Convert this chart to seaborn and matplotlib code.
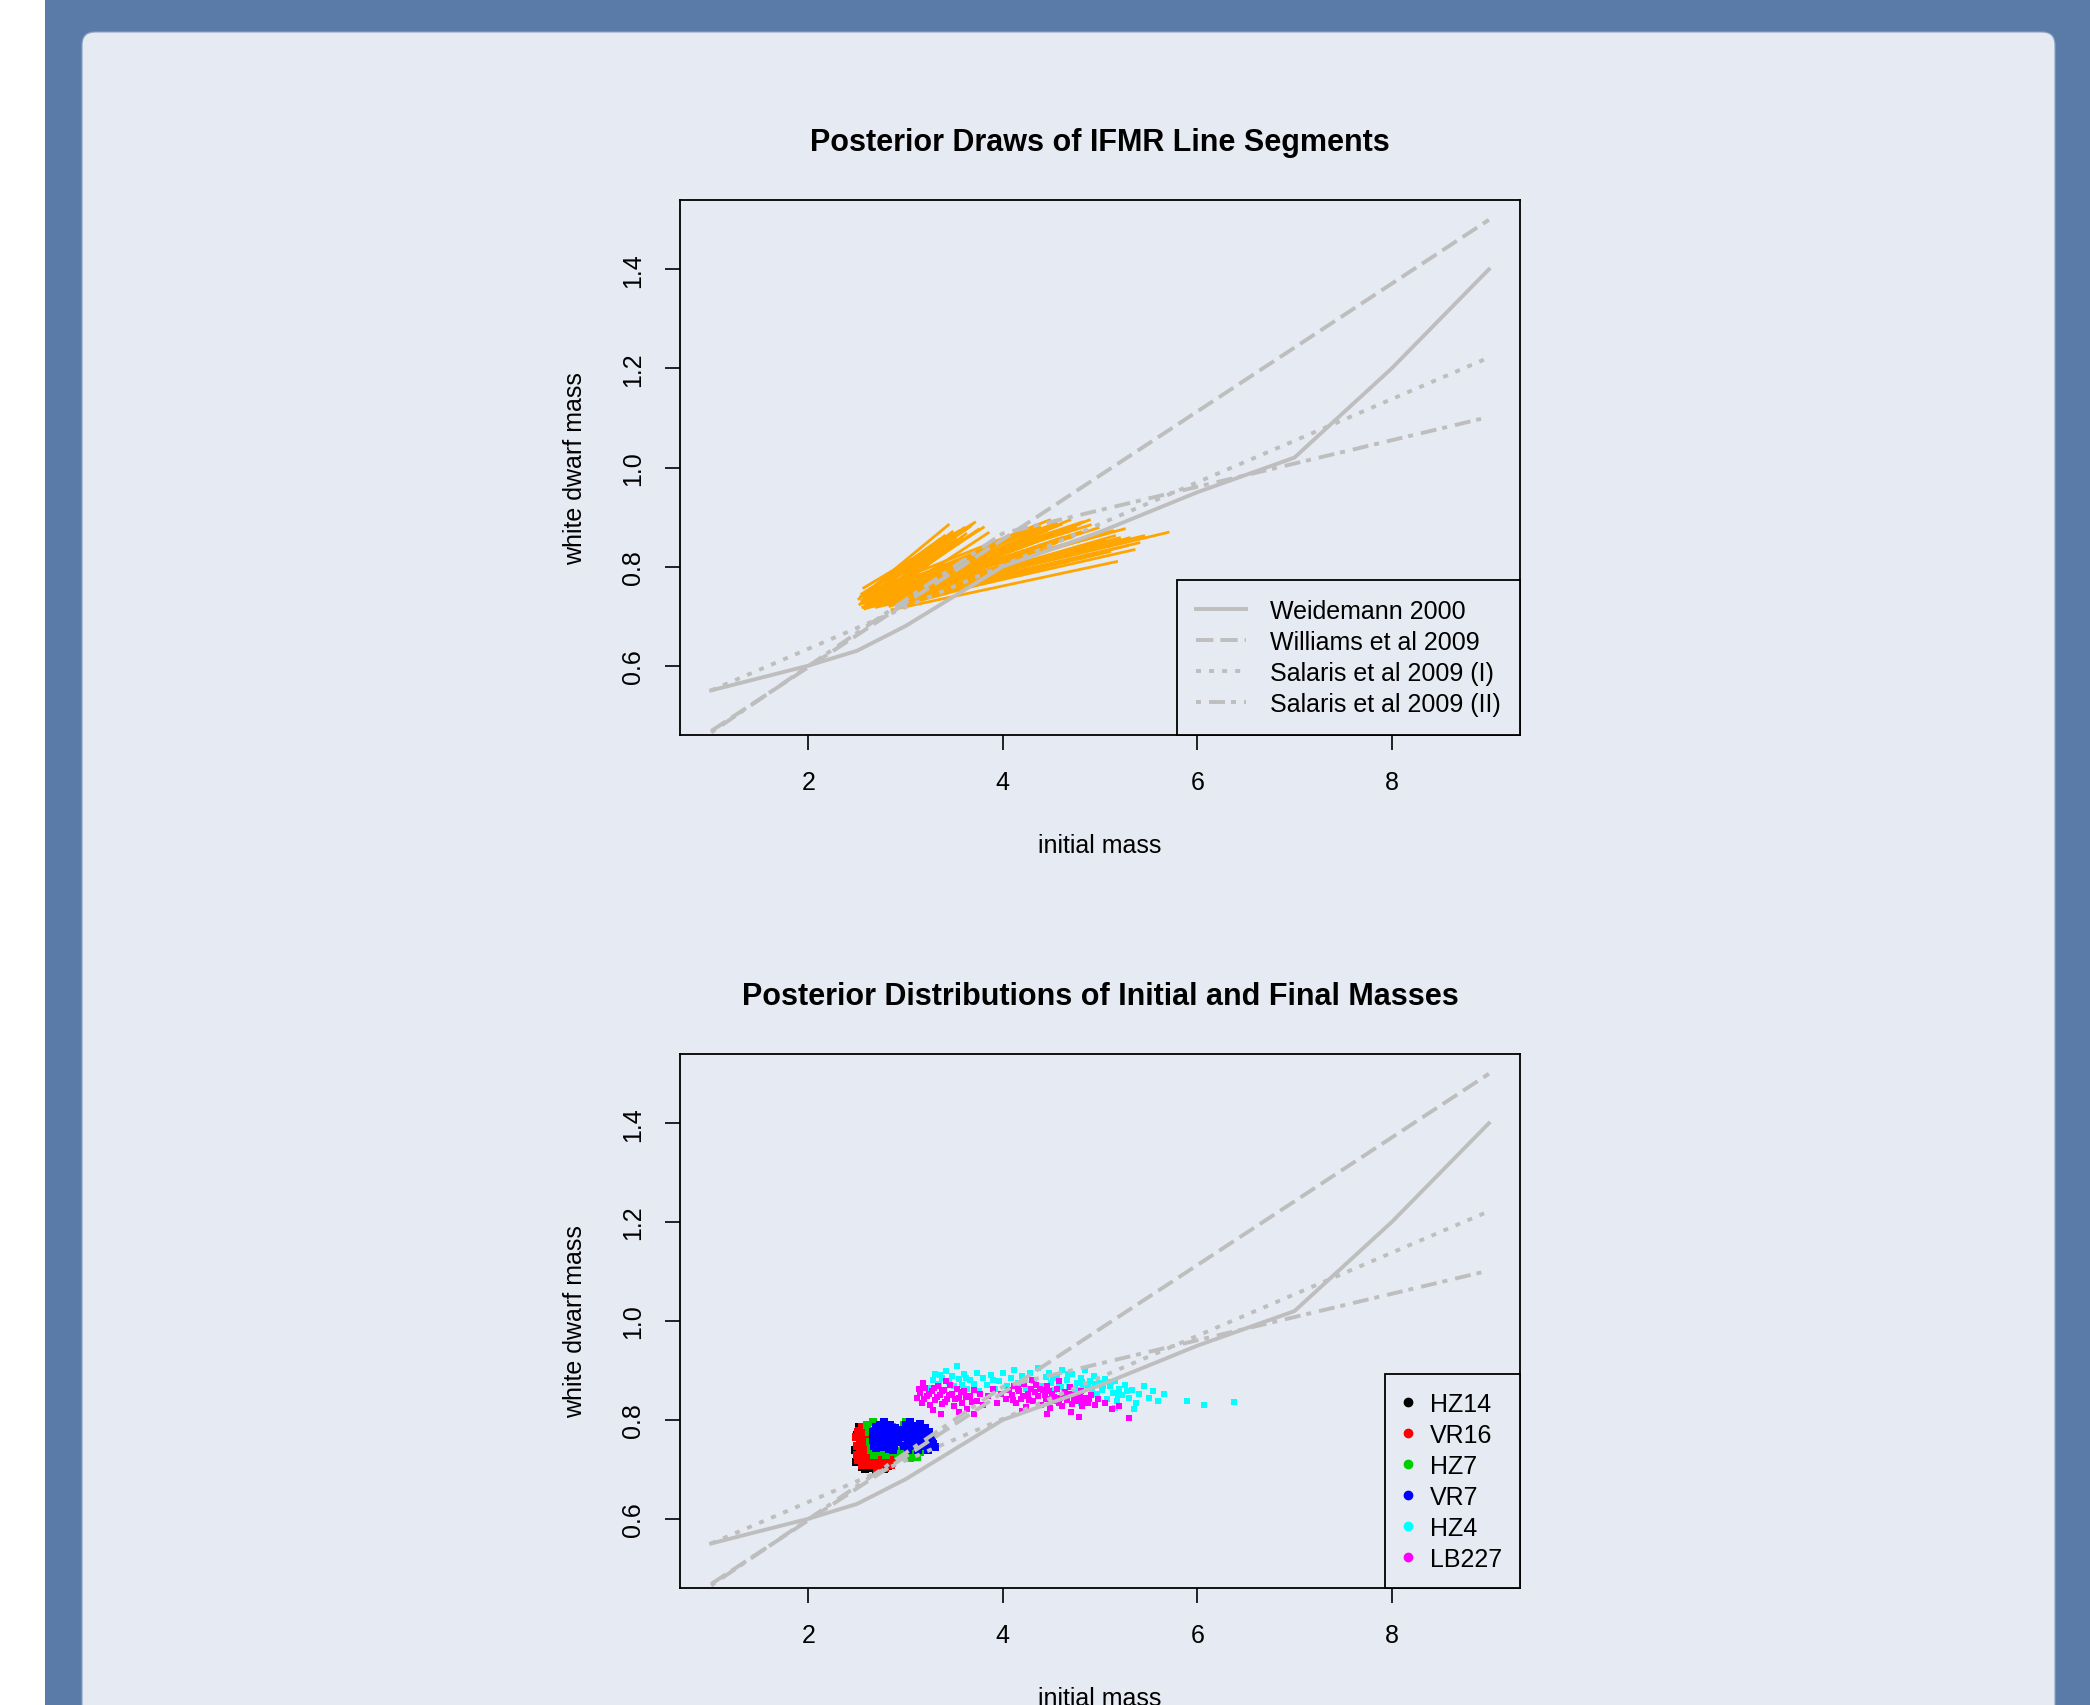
import pandas as pd
import matplotlib
matplotlib.use("Agg")
import matplotlib.pyplot as plt
import seaborn as sns
from matplotlib.patches import FancyBboxPatch, Rectangle
from matplotlib.lines import Line2D

# --- reference IFMR relations (initial mass -> white dwarf mass) ---
weid_x = [1.0, 2.0, 2.5, 3.0, 4.0, 5.0, 6.0, 7.0, 8.0, 9.0]
weid_y = [0.55, 0.60, 0.63, 0.68, 0.80, 0.87, 0.95, 1.02, 1.20, 1.40]
will_x = [1.0, 9.0]
will_y = [0.468, 1.50]
sal1_x = [1.0, 9.0]
sal1_y = [0.55, 1.222]
sal2_x = [1.0, 4.0, 9.0]
sal2_y = [0.465, 0.867, 1.102]

# --- posterior draws of the IFMR line segments (start / end points) ---
seg_x0 = [2.52, 2.55, 2.60, 2.57, 2.65, 2.62, 2.70, 2.53, 2.68, 2.75, 2.58, 2.72,
          2.56, 2.63, 2.59, 2.74, 2.66, 2.54,
          2.60, 2.66, 2.78, 2.55,
          2.62, 2.70, 2.75, 2.58, 2.80, 2.67, 2.86, 2.90, 2.72, 2.64, 2.78, 2.55,
          2.83, 2.60, 2.68, 2.74, 2.88, 2.62, 2.77, 2.70, 2.95, 2.66, 2.84, 2.58,
          2.61, 2.69, 2.57, 2.81, 2.65, 2.73, 2.87, 2.59, 2.76, 2.63, 2.92, 2.68,
          2.71, 2.82, 2.56, 2.79, 2.64, 2.93]
seg_y0 = [0.735, 0.745, 0.728, 0.757, 0.722, 0.740, 0.735, 0.724, 0.748, 0.730, 0.715, 0.722,
          0.730, 0.752, 0.722, 0.738, 0.730, 0.740,
          0.738, 0.725, 0.742, 0.732,
          0.750, 0.740, 0.735, 0.728, 0.745, 0.720, 0.713, 0.725, 0.730, 0.742, 0.728, 0.725,
          0.738, 0.716, 0.755, 0.722, 0.732, 0.735, 0.748, 0.718, 0.728, 0.745, 0.720, 0.742,
          0.726, 0.736, 0.738, 0.730, 0.748, 0.726, 0.740, 0.732, 0.742, 0.718, 0.735, 0.728,
          0.750, 0.725, 0.718, 0.752, 0.733, 0.720]
seg_x1 = [3.44, 3.71, 3.80, 3.55, 3.62, 3.48, 3.75, 3.40, 3.66, 3.58, 3.52, 3.85,
          3.60, 3.68, 3.45, 3.72, 3.50, 3.35,
          4.05, 4.20, 3.95, 4.30,
          4.48, 4.69, 4.89, 4.60, 5.13, 5.20, 5.17, 5.35, 5.70, 5.23, 4.95, 4.80,
          5.00, 4.55, 4.75, 5.28, 4.40, 5.05, 4.65, 5.10, 4.85, 4.38, 4.70, 4.90,
          4.62, 4.98, 4.45, 5.15, 4.82, 5.40, 4.60, 4.72, 5.25, 4.90, 5.05, 4.25,
          4.55, 5.30, 4.35, 4.78, 5.45, 4.95]
seg_y1 = [0.884, 0.889, 0.879, 0.872, 0.866, 0.870, 0.875, 0.862, 0.880, 0.858, 0.855, 0.868,
          0.878, 0.884, 0.850, 0.870, 0.865, 0.855,
          0.855, 0.868, 0.850, 0.875,
          0.894, 0.894, 0.894, 0.885, 0.872, 0.858, 0.810, 0.834, 0.869, 0.851, 0.862, 0.870,
          0.845, 0.848, 0.880, 0.842, 0.842, 0.866, 0.876, 0.830, 0.838, 0.880, 0.832, 0.884,
          0.870, 0.878, 0.872, 0.862, 0.890, 0.848, 0.858, 0.860, 0.876, 0.846, 0.852, 0.860,
          0.888, 0.858, 0.850, 0.885, 0.862, 0.826]

# --- posterior draws of (initial mass, final mass) for each white dwarf ---
stars = ['HZ14', 'VR16', 'HZ7', 'VR7', 'HZ4', 'LB227']
star_colors = ['black', '#ff0000', '#00cd00', '#0000ff', '#00ffff', '#ff00ff']

hz14_pts = [(2.48, 0.740), (2.50, 0.770), (2.49, 0.715), (2.52, 0.785), (2.55, 0.705), (2.58, 0.700),
            (2.62, 0.708), (2.66, 0.702), (2.70, 0.699), (2.74, 0.704), (2.78, 0.700), (2.82, 0.706),
            (2.86, 0.712), (2.88, 0.722), (2.53, 0.755), (2.60, 0.760), (2.64, 0.730), (2.72, 0.720)]
vr16_pts = [(2.49, 0.765), (2.50, 0.748), (2.50, 0.730), (2.51, 0.718), (2.52, 0.778), (2.53, 0.757),
            (2.53, 0.740), (2.54, 0.722), (2.55, 0.709), (2.56, 0.768), (2.57, 0.750), (2.57, 0.733),
            (2.58, 0.715), (2.59, 0.782), (2.60, 0.760), (2.61, 0.742), (2.61, 0.725), (2.62, 0.708),
            (2.63, 0.770), (2.64, 0.752), (2.65, 0.735), (2.66, 0.718), (2.67, 0.760), (2.68, 0.742),
            (2.69, 0.726), (2.55, 0.785), (2.51, 0.775), (2.66, 0.778),
            (2.70, 0.712), (2.72, 0.728), (2.73, 0.742), (2.74, 0.705), (2.76, 0.720), (2.78, 0.735),
            (2.79, 0.703), (2.81, 0.716), (2.83, 0.730), (2.84, 0.742), (2.85, 0.709), (2.87, 0.722),
            (2.71, 0.700), (2.80, 0.746)]
hz7_pts = [(2.60, 0.790), (2.62, 0.775), (2.63, 0.755), (2.64, 0.740), (2.66, 0.795), (2.68, 0.730),
           (2.70, 0.760), (2.72, 0.745), (2.74, 0.790), (2.76, 0.735), (2.80, 0.728), (2.84, 0.735),
           (2.88, 0.742), (2.92, 0.730), (2.96, 0.738), (2.98, 0.790), (3.00, 0.725), (3.03, 0.735),
           (3.05, 0.722), (3.08, 0.730), (3.10, 0.740), (3.12, 0.725), (3.15, 0.735), (3.18, 0.742),
           (2.95, 0.770), (2.97, 0.752), (3.00, 0.795), (2.90, 0.760), (2.86, 0.785), (3.06, 0.780)]
vr7_pts = [(2.66, 0.760), (2.67, 0.775), (2.68, 0.748), (2.70, 0.785), (2.71, 0.765), (2.72, 0.752),
           (2.74, 0.790), (2.75, 0.775), (2.76, 0.760), (2.77, 0.745), (2.79, 0.785), (2.80, 0.770),
           (2.81, 0.755), (2.83, 0.742), (2.84, 0.790), (2.85, 0.775), (2.86, 0.760), (2.88, 0.748),
           (2.89, 0.783), (2.90, 0.768), (2.92, 0.755), (2.93, 0.775), (2.78, 0.795), (2.70, 0.743),
           (2.87, 0.740),
           (2.96, 0.765), (2.97, 0.780), (2.98, 0.748), (3.00, 0.790), (3.01, 0.770), (3.02, 0.755),
           (3.03, 0.740), (3.05, 0.795), (3.06, 0.780), (3.07, 0.762), (3.08, 0.748), (3.10, 0.788),
           (3.11, 0.772), (3.12, 0.756), (3.13, 0.740), (3.15, 0.792), (3.16, 0.778), (3.17, 0.762),
           (3.18, 0.748), (3.20, 0.784), (3.21, 0.768), (3.22, 0.752), (3.24, 0.775), (3.25, 0.760),
           (3.27, 0.768), (3.28, 0.752), (3.30, 0.745), (3.04, 0.770), (3.14, 0.765), (3.23, 0.740)]
hz4_pts = [(3.25, 0.865), (3.28, 0.880), (3.30, 0.893), (3.34, 0.872), (3.37, 0.885), (3.40, 0.860),
           (3.42, 0.898), (3.45, 0.876), (3.48, 0.888), (3.50, 0.868), (3.53, 0.910), (3.55, 0.882),
           (3.58, 0.870), (3.60, 0.893), (3.63, 0.862), (3.66, 0.880), (3.70, 0.872), (3.73, 0.895),
           (3.76, 0.858), (3.80, 0.884), (3.84, 0.870), (3.88, 0.890), (3.92, 0.862), (3.96, 0.878),
           (4.00, 0.895), (4.04, 0.868), (4.08, 0.884), (4.12, 0.900), (4.16, 0.874), (4.20, 0.888),
           (4.24, 0.862), (4.28, 0.895), (4.32, 0.878), (4.36, 0.905), (4.40, 0.868), (4.44, 0.886),
           (4.48, 0.895), (4.50, 0.875), (4.53, 0.860), (4.56, 0.888), (4.58, 0.870), (4.61, 0.900),
           (4.63, 0.855), (4.66, 0.880), (4.68, 0.866), (4.71, 0.892), (4.73, 0.848), (4.76, 0.875),
           (4.78, 0.860), (4.80, 0.885), (4.83, 0.870), (4.85, 0.900), (4.87, 0.845), (4.90, 0.878),
           (4.92, 0.862), (4.94, 0.888), (4.97, 0.852), (5.00, 0.874), (5.02, 0.860), (5.05, 0.882),
           (5.07, 0.842), (5.10, 0.868), (5.13, 0.855), (5.15, 0.878), (5.18, 0.838), (5.20, 0.862),
           (5.23, 0.850), (5.26, 0.870), (5.30, 0.845), (5.33, 0.860), (5.37, 0.835), (5.40, 0.852),
           (5.45, 0.868), (5.50, 0.845), (5.55, 0.858), (5.60, 0.838), (5.66, 0.852), (4.95, 0.830),
           (4.80, 0.835), (5.15, 0.825), (5.35, 0.822), (5.89, 0.838), (6.07, 0.830), (6.38, 0.836),
           (4.52, 0.884), (4.60, 0.866), (4.67, 0.892), (4.74, 0.862), (4.81, 0.876), (4.88, 0.866),
           (4.95, 0.872), (5.03, 0.868), (5.11, 0.876), (5.19, 0.850), (5.28, 0.858), (3.35, 0.890),
           (3.62, 0.884), (3.90, 0.880)]
lb227_pts = [(3.12, 0.845), (3.15, 0.855), (3.17, 0.835), (3.20, 0.865), (3.22, 0.848), (3.25, 0.830),
             (3.27, 0.858), (3.30, 0.840), (3.33, 0.868), (3.35, 0.850), (3.38, 0.832), (3.40, 0.860),
             (3.43, 0.842), (3.46, 0.870), (3.48, 0.852), (3.50, 0.828), (3.53, 0.862), (3.55, 0.845),
             (3.58, 0.835), (3.60, 0.858), (3.63, 0.822), (3.66, 0.848), (3.70, 0.860), (3.73, 0.838),
             (3.77, 0.852), (3.80, 0.830), (3.18, 0.875), (3.42, 0.878), (3.28, 0.820), (3.55, 0.815),
             (3.36, 0.812), (3.85, 0.848), (3.90, 0.862), (3.94, 0.835), (3.98, 0.852), (4.03, 0.842),
             (4.06, 0.860), (4.10, 0.850), (4.12, 0.868), (4.14, 0.835), (4.17, 0.858), (4.19, 0.842),
             (4.22, 0.872), (4.24, 0.826), (4.26, 0.852), (4.29, 0.862), (4.31, 0.838), (4.34, 0.870),
             (4.36, 0.848), (4.39, 0.830), (4.41, 0.860), (4.44, 0.842), (4.46, 0.868), (4.49, 0.825),
             (4.51, 0.852), (4.54, 0.838), (4.56, 0.862), (4.59, 0.845), (4.61, 0.828), (4.64, 0.856),
             (4.66, 0.840), (4.69, 0.866), (4.71, 0.832), (4.74, 0.850), (4.77, 0.838), (4.80, 0.858),
             (4.82, 0.828), (4.85, 0.845), (4.88, 0.835), (4.91, 0.850), (4.95, 0.830), (4.98, 0.842),
             (4.20, 0.818), (4.45, 0.812), (4.70, 0.815), (4.58, 0.878), (4.30, 0.880), (5.05, 0.835),
             (5.12, 0.822), (5.20, 0.828), (5.30, 0.804), (4.78, 0.806), (3.70, 0.812),
             (3.14, 0.862), (3.19, 0.842), (3.24, 0.852), (3.29, 0.864), (3.32, 0.846), (3.37, 0.858),
             (3.41, 0.836), (3.45, 0.850), (3.51, 0.842), (3.57, 0.856), (3.62, 0.846), (3.68, 0.836),
             (4.11, 0.840), (4.16, 0.862), (4.21, 0.848), (4.27, 0.840), (4.33, 0.856), (4.38, 0.862),
             (4.43, 0.850), (4.48, 0.858), (4.53, 0.846), (4.58, 0.834), (4.63, 0.848), (4.68, 0.852),
             (4.73, 0.842), (4.79, 0.846), (4.84, 0.836), (4.89, 0.842)]
star_pts = [hz14_pts, vr16_pts, hz7_pts, vr7_pts, hz4_pts, lb227_pts]

# ---------------------------------------------------------------
PANEL = '#e6eaf2'
FRAME = '#5a7ba8'
GREY = '#bebebe'
FS = 18

plt.rcParams['lines.scale_dashes'] = False
plt.rcParams['font.family'] = ['Liberation Sans', 'DejaVu Sans']

ref_names = ['Weidemann 2000', 'Williams et al 2009',
             'Salaris et al 2009 (I)', 'Salaris et al 2009 (II)']
ref_dashes = {ref_names[0]: '',
              ref_names[1]: (12.5, 5.0),
              ref_names[2]: (3.6, 5.8),
              ref_names[3]: (3.6, 5.8, 11.5, 4.3)}

ref_df = pd.concat([
    pd.DataFrame({'model': ref_names[0], 'x': weid_x, 'y': weid_y}),
    pd.DataFrame({'model': ref_names[1], 'x': will_x, 'y': will_y}),
    pd.DataFrame({'model': ref_names[2], 'x': sal1_x, 'y': sal1_y}),
    pd.DataFrame({'model': ref_names[3], 'x': sal2_x, 'y': sal2_y}),
], ignore_index=True)

seg_rows = []
for i in range(len(seg_x0)):
    seg_rows.append({'seg': i, 'x': seg_x0[i], 'y': seg_y0[i]})
    seg_rows.append({'seg': i, 'x': seg_x1[i], 'y': seg_y1[i]})
seg_df = pd.DataFrame(seg_rows)

fig = plt.figure(figsize=(20.9, 17.06), dpi=100, facecolor='white')
# page background: blue frame with a rounded light panel
fig.patches.append(Rectangle((0.45, 0), 20.45, 17.06, transform=fig.dpi_scale_trans,
                             facecolor=FRAME, edgecolor='none', zorder=-10))
fig.patches.append(FancyBboxPatch((0.82, -1.0), 19.73, 17.73,
                                  boxstyle='round,pad=0,rounding_size=0.13',
                                  transform=fig.dpi_scale_trans,
                                  facecolor=PANEL, edgecolor='#8aa2c4', linewidth=0.8, zorder=-9))

ax1 = fig.add_axes([0.32536, 0.56858, 0.40191, 0.31360])
ax2 = fig.add_axes([0.32536, 0.06858, 0.40191, 0.31301])


def draw_refs(ax):
    sns.lineplot(data=ref_df, x='x', y='y', style='model', dashes=ref_dashes,
                 units='model', estimator=None, sort=False, color=GREY,
                 linewidth=2.8, legend=False, ax=ax, zorder=3)


def style_axes(ax, title):
    ax.set_facecolor(PANEL)
    ax.set_xlim(0.68, 9.32)
    ax.set_ylim(0.46, 1.54)
    ax.set_xticks([2, 4, 6, 8])
    ax.set_yticks([0.6, 0.8, 1.0, 1.2, 1.4])
    ax.set_xticklabels(['2', '4', '6', '8'])
    ax.set_yticklabels(['0.6', '0.8', '1.0', '1.2', '1.4'])
    ax.tick_params(length=11, width=1.2, labelsize=FS, pad=14, direction='out')
    for lab in ax.get_yticklabels():
        lab.set_rotation(90)
        lab.set_verticalalignment('center')
    for sp in ax.spines.values():
        sp.set_linewidth(1.3)
        sp.set_color('black')
    ax.set_xlabel('initial mass', fontsize=FS, labelpad=28)
    ax.set_ylabel('white dwarf mass', fontsize=FS, labelpad=25)
    ax.set_title(title, fontsize=22, fontweight='bold', pad=36)


# --- top panel: line segments ---
sns.lineplot(data=seg_df, x='x', y='y', units='seg', estimator=None, sort=False,
             color='#ffa500', linewidth=2.0, ax=ax1, zorder=2)
draw_refs(ax1)
style_axes(ax1, 'Posterior Draws of IFMR Line Segments')
handles = [Line2D([], [], color=GREY, linewidth=2.8,
                  linestyle='-' if ref_dashes[n] == '' else (0, ref_dashes[n]))
           for n in ref_names]
leg1 = ax1.legend(handles, ref_names, loc='lower right', bbox_to_anchor=(1, 0),
                  borderaxespad=0, fontsize=FS, frameon=True, fancybox=False,
                  framealpha=1, facecolor=PANEL, edgecolor='black',
                  handlelength=2.0, handletextpad=0.95, labelspacing=0.28, borderpad=0.76)
leg1.get_frame().set_linewidth(1.3)

# --- bottom panel: posterior samples ---
for name, col, pts in zip(stars, star_colors, star_pts):
    df = pd.DataFrame(pts, columns=['x', 'y'])
    size = 18 if name in ('HZ4', 'LB227') else 34
    sns.scatterplot(data=df, x='x', y='y', color=col, marker='s', s=size,
                    linewidth=0, legend=False, ax=ax2, zorder=2)
draw_refs(ax2)
style_axes(ax2, 'Posterior Distributions of Initial and Final Masses')
handles2 = [Line2D([], [], color=c, marker='o', linestyle='none', markersize=6)
            for c in star_colors]
leg2 = ax2.legend(handles2, stars, loc='lower right', bbox_to_anchor=(1, 0),
                  borderaxespad=0, fontsize=FS, frameon=True, fancybox=False,
                  framealpha=1, facecolor=PANEL, edgecolor='black',
                  handlelength=0.4, handletextpad=0.7, labelspacing=0.28, borderpad=0.7)
leg2.get_frame().set_linewidth(1.3)

fig.savefig('out.png', dpi=100, facecolor=fig.get_facecolor())
